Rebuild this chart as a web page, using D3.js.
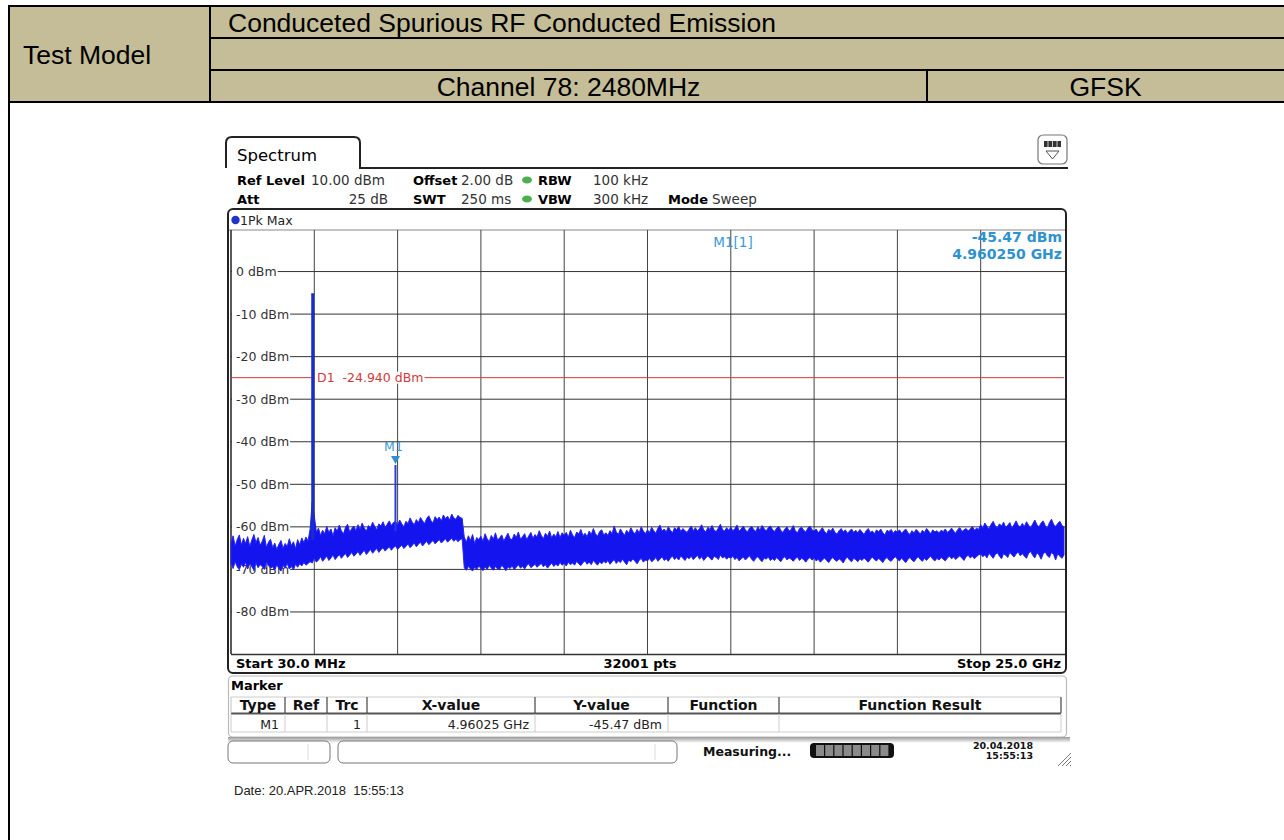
<!DOCTYPE html>
<html><head><meta charset="utf-8">
<script src="https://cdn.jsdelivr.net/npm/d3@7"></script>
<style>body{margin:0;background:#fff}svg{display:block}text{white-space:pre}</style>
</head><body><svg id="c" width="1284" height="840"></svg>
<script>
// ---------- data ----------
const headerLeft = "Test Model";
const headerRows = ["Conduceted Spurious RF Conducted Emission", "", "Channel 78: 2480MHz"];
const headerMode = "GFSK";
const yTickValues = [0, -10, -20, -30, -40, -50, -60, -70, -80];
const yDomain = [-90, 10];
const sweepStartGHz = 0.03;
const sweepStopGHz = 25.0;
const xDivisions = 10;
const displayLineDbm = -24.94;
const displayLineLabel = "D1  -24.940 dBm";
const markerName = "M1";
const markerFreqGHz = 4.96025;
const markerLevelDbm = -45.47;
const spikeFreqGHz = [2.48, 4.96025];
const spikePeakDbm = [-5.1, -45.47];
const spikeBaseDbm = [-63.0, -61.0];
// trace envelope (max / min of the dense 32001-pt sweep), 401 samples across the span
const traceMaxDbm = [
 -63.8,-62.1,-64.5,-63.0,-61.9,-64.2,-62.7,-63.9,-62.3,-64.6,-63.1,-61.8,-63.7,-62.5,-64.3,-63.4,-62.0,-64.8,-63.6,-62.9,
 -64.9,-63.8,-65.3,-64.1,-63.2,-65.0,-63.9,-64.6,-62.8,-64.4,-63.5,-65.1,-63.0,-64.2,-62.6,-63.7,-62.4,-63.3,-60.5,-54.2,
 -57.5,-61.2,-60.3,-62.0,-60.8,-61.6,-59.9,-61.3,-60.5,-62.1,-60.2,-61.0,-59.6,-60.9,-61.7,-60.1,-59.4,-61.2,-60.4,-59.8,
 -60.9,-59.5,-60.6,-59.1,-60.3,-61.0,-59.7,-60.2,-58.9,-59.9,-60.7,-59.3,-59.8,-58.8,-60.1,-59.4,-58.6,-59.7,-59.0,-58.7,
 -59.6,-58.4,-59.3,-60.0,-58.7,-59.2,-57.9,-58.9,-59.5,-58.3,-59.0,-57.8,-58.6,-59.2,-58.0,-57.4,-58.5,-59.1,-57.6,-58.3,
 -57.7,-58.6,-57.2,-58.1,-57.5,-58.4,-57.0,-57.9,-58.2,-57.3,-57.8,-58.0,-62.4,-63.6,-62.1,-63.2,-61.8,-63.9,-62.5,-63.0,
 -62.2,-63.4,-61.6,-62.8,-63.5,-62.0,-62.9,-61.4,-63.1,-62.6,-61.9,-63.3,-62.4,-61.5,-62.8,-63.0,-61.7,-62.5,-61.2,-62.9,
 -62.3,-61.6,-63.0,-62.1,-61.3,-62.7,-61.8,-62.4,-60.9,-62.0,-62.8,-61.5,-62.2,-61.0,-62.6,-61.7,-62.3,-61.1,-62.5,-61.4,
 -62.0,-61.3,-62.4,-60.8,-61.9,-62.5,-61.2,-61.7,-60.6,-62.1,-61.5,-62.3,-61.0,-61.8,-60.4,-61.6,-62.2,-61.1,-60.7,-61.9,
 -61.4,-62.0,-60.9,-61.6,-59.8,-61.2,-61.8,-60.5,-61.3,-62.0,-60.8,-61.5,-60.2,-61.1,-61.7,-60.6,-61.4,-60.0,-61.0,-61.6,
 -60.7,-61.3,-60.1,-60.9,-61.5,-60.3,-59.6,-61.0,-60.5,-61.2,-60.0,-60.8,-61.4,-60.2,-60.7,-59.9,-61.1,-60.4,-60.9,-61.3,
 -60.5,-59.8,-60.9,-60.2,-61.0,-60.4,-59.5,-60.7,-61.2,-60.1,-60.6,-59.7,-60.8,-61.1,-60.3,-59.4,-60.6,-61.0,-60.2,-60.8,
 -60.1,-60.9,-60.4,-59.6,-61.0,-60.5,-59.8,-60.7,-61.2,-60.3,-59.9,-60.6,-61.1,-60.0,-60.8,-59.7,-60.4,-61.0,-60.2,-59.8,
 -60.6,-61.1,-60.3,-59.9,-60.8,-61.3,-60.5,-60.0,-61.0,-60.6,-59.7,-60.9,-61.4,-60.4,-60.1,-60.8,-61.2,-60.3,-59.8,-60.7,
 -61.0,-60.5,-61.4,-60.8,-60.2,-61.1,-61.6,-60.6,-61.0,-60.3,-61.3,-61.7,-60.9,-60.4,-61.2,-60.7,-61.5,-61.0,-60.5,-61.3,
 -60.8,-61.4,-60.6,-61.2,-61.8,-60.9,-60.4,-61.3,-61.0,-61.6,-60.7,-61.2,-60.5,-61.4,-61.9,-60.8,-61.1,-60.6,-61.5,-60.9,
 -61.2,-60.7,-61.5,-61.0,-60.5,-61.3,-61.8,-60.9,-61.4,-60.6,-61.1,-61.7,-60.8,-61.3,-60.4,-61.0,-61.6,-60.7,-61.2,-60.9,
 -61.4,-60.8,-61.1,-60.5,-61.3,-60.9,-60.3,-61.0,-61.5,-60.6,-60.2,-61.1,-60.7,-60.4,-61.0,-60.5,-59.9,-60.8,-60.3,-60.6,
 -59.5,-60.3,-59.1,-59.9,-60.5,-59.4,-58.7,-59.8,-60.2,-59.3,-59.8,-58.9,-60.1,-59.6,-59.0,-60.3,-59.5,-58.6,-59.7,-60.0,
 -59.2,-59.9,-58.8,-59.6,-60.2,-59.3,-58.4,-59.5,-60.0,-59.1,-58.6,-59.7,-60.3,-59.0,-58.2,-59.4,-59.9,-59.2,-58.7,-59.6,
 -60.1
];
const traceMinDbm = [
 -68.6,-69.8,-68.2,-69.4,-70.1,-68.7,-69.5,-68.3,-69.9,-68.8,-69.2,-70.3,-68.5,-69.6,-68.9,-69.3,-70.0,-68.4,-69.1,-69.7,
 -69.4,-70.2,-68.9,-69.8,-70.4,-69.1,-69.7,-68.6,-69.9,-69.3,-70.1,-68.8,-69.5,-68.7,-69.2,-68.4,-69.0,-68.6,-68.2,-68.5,
 -67.4,-68.3,-67.8,-67.0,-68.1,-67.5,-66.9,-67.9,-67.3,-66.6,-67.7,-67.1,-66.5,-67.4,-66.8,-66.3,-67.2,-66.6,-66.0,-66.9,
 -66.4,-65.8,-66.7,-66.1,-65.5,-66.5,-65.9,-65.3,-66.2,-65.6,-65.1,-66.0,-65.4,-64.9,-65.7,-65.2,-64.7,-65.5,-64.9,-64.5,
 -65.3,-64.8,-64.3,-65.1,-64.6,-64.0,-64.9,-64.4,-63.8,-64.7,-64.1,-63.6,-64.5,-63.9,-63.4,-64.2,-63.7,-63.2,-64.0,-63.5,
 -63.0,-63.8,-63.3,-62.8,-63.6,-63.1,-62.7,-63.4,-62.9,-63.5,-63.0,-62.8,-69.6,-70.2,-69.3,-69.9,-70.4,-69.5,-70.0,-69.2,
 -69.8,-70.3,-69.4,-70.0,-69.1,-69.7,-70.2,-69.3,-69.9,-70.1,-69.0,-69.6,-70.3,-69.4,-69.8,-69.2,-70.0,-69.5,-68.9,-69.7,
 -69.3,-69.9,-69.1,-68.7,-69.6,-69.2,-68.8,-69.5,-69.0,-68.6,-69.4,-68.9,-69.7,-69.1,-68.5,-69.3,-68.8,-69.2,-68.4,-69.0,
 -68.6,-69.2,-68.3,-68.9,-68.5,-69.0,-68.1,-68.7,-69.1,-68.4,-68.0,-68.8,-68.3,-68.9,-67.9,-68.5,-69.0,-68.2,-68.7,-68.1,
 -68.5,-67.9,-68.8,-68.2,-67.7,-68.6,-68.0,-68.4,-67.6,-68.3,-68.9,-67.8,-68.2,-67.5,-68.1,-68.7,-67.9,-67.4,-68.3,-67.8,
 -68.0,-67.4,-68.2,-67.8,-67.2,-68.1,-67.6,-67.0,-67.9,-67.5,-68.1,-67.3,-66.9,-67.7,-67.2,-67.8,-66.8,-67.4,-67.9,-67.1,
 -67.5,-66.9,-67.7,-67.2,-66.7,-67.6,-67.0,-67.9,-67.3,-66.8,-67.4,-67.8,-66.9,-67.2,-67.7,-66.6,-67.3,-67.0,-67.6,-67.1,
 -67.4,-66.9,-67.7,-67.2,-68.0,-67.5,-67.1,-67.8,-67.3,-66.8,-67.6,-68.1,-67.4,-67.0,-67.7,-68.2,-67.3,-67.6,-67.1,-67.9,
 -67.5,-67.9,-67.2,-67.7,-68.2,-67.4,-67.0,-67.8,-67.3,-67.6,-68.1,-67.5,-67.1,-67.9,-67.4,-67.7,-68.3,-67.6,-67.2,-67.8,
 -67.4,-68.0,-67.6,-68.3,-67.8,-67.3,-67.9,-68.4,-67.7,-67.2,-67.8,-68.1,-67.5,-67.9,-68.5,-67.6,-67.1,-67.8,-68.2,-67.4,
 -67.7,-68.2,-67.5,-67.9,-67.3,-67.8,-68.3,-67.6,-67.1,-67.7,-68.0,-67.4,-67.9,-68.4,-67.6,-67.2,-67.8,-68.1,-67.5,-67.0,
 -67.6,-68.0,-67.3,-67.9,-68.4,-67.7,-67.2,-67.8,-68.2,-67.5,-67.0,-67.7,-68.1,-67.4,-67.9,-67.3,-66.9,-67.6,-68.0,-67.4,
 -67.8,-67.2,-67.6,-68.0,-67.3,-66.9,-67.5,-67.1,-67.7,-67.2,-66.8,-67.4,-67.9,-67.0,-66.7,-67.3,-66.9,-67.5,-67.0,-66.6,
 -66.4,-67.0,-66.6,-67.3,-66.2,-66.8,-67.4,-66.5,-66.1,-66.9,-67.5,-66.3,-66.7,-67.2,-66.0,-66.6,-67.1,-66.4,-65.9,-66.8,
 -66.3,-66.9,-67.4,-66.2,-65.8,-66.7,-67.3,-66.1,-66.6,-67.6,-66.4,-65.9,-66.8,-67.2,-66.0,-66.5,-67.8,-66.3,-66.9,-67.4,
 -66.6
];
const settingsRow1 = [["Ref Level","10.00 dBm"],["Offset","2.00 dB"],["RBW","100 kHz"]];
const settingsRow2 = [["Att","25 dB"],["SWT","250 ms"],["VBW","300 kHz"],["Mode","Sweep"]];
const traceLabel = "1Pk Max";
const startLabel = "Start 30.0 MHz", ptsLabel = "32001 pts", stopLabel = "Stop 25.0 GHz";
const markerTableHeaders = ["Type","Ref","Trc","X-value","Y-value","Function","Function Result"];
const markerTableRow = ["M1","","1","4.96025 GHz","-45.47 dBm","",""];
const statusText = "Measuring...";
const statusDate = ["20.04.2018","15:55:13"];
const dateLine = "Date: 20.APR.2018  15:55:13";

// ---------- drawing ----------
const svg = d3.select("#c");
const SANS = "'Liberation Sans', Arial, sans-serif";
const DV = "'DejaVu Sans', Verdana, sans-serif";

// header table
const hdr = svg.append("g");
const hTop = 6, hBot = 102, hL = 9, colX = 210, divX = 927, rowY = [6, 38, 70, 102];
hdr.append("rect").attr("x", hL).attr("y", hTop).attr("width", 1284 - hL + 5).attr("height", hBot - hTop)
  .attr("fill", "#c4bd98");
const hl = (x1,y1,x2,y2,w=2,c="#000") => hdr.append("line").attr("x1",x1).attr("y1",y1).attr("x2",x2).attr("y2",y2)
  .attr("stroke",c).attr("stroke-width",w);
hl(hL-1, hTop, 1284, hTop);
hl(hL, hTop, hL, 840);
hl(colX, hTop, colX, hBot);
hl(colX, rowY[1], 1284, rowY[1]);
hl(colX, rowY[2], 1284, rowY[2]);
hl(hL-1, hBot, 1284, hBot);
hl(divX, rowY[2], divX, hBot);
const ht = (x,y,t,anchor="start") => hdr.append("text").attr("x",x).attr("y",y).attr("text-anchor",anchor)
  .attr("font-family",SANS).attr("font-size",26.5).attr("fill","#000").attr("dominant-baseline","central").text(t);
ht(23, 55, headerLeft);
ht(228, 23, headerRows[0]);
ht((colX+divX)/2, 87, headerRows[2], "middle");
ht((divX+1284)/2, 87, headerMode, "middle");

// analyzer screen
const g = svg.append("g");
const xS = d3.scaleLinear().domain([sweepStartGHz, sweepStopGHz]).range([231, 1064]);
const yS = d3.scaleLinear().domain(yDomain).range([654.5, 229]);
const txt = (x,y,t,o={}) => g.append("text").attr("x",x).attr("y",y).attr("font-family",o.f||DV)
  .attr("font-size",o.s||13).attr("font-weight",o.w||"normal").attr("fill",o.c||"#111")
  .attr("text-anchor",o.a||"start").text(t);

// tab
g.append("path").attr("d","M226,168 L226,143 Q226,137 232,137 L354,137 Q360,137 360,143 L360,168 L1068,168")
  .attr("fill","none").attr("stroke","#222").attr("stroke-width",2);
txt(237, 161, "Spectrum", {s:16.5, c:"#000"});
// icon
g.append("rect").attr("x",1038).attr("y",135).attr("width",29).attr("height",29).attr("rx",5)
  .attr("fill","#fff").attr("stroke","#777").attr("stroke-width",1.2);
g.append("rect").attr("x",1044).attr("y",141).attr("width",17).attr("height",6).attr("fill","#333");
[1048,1052.5,1057].forEach(x=>g.append("line").attr("x1",x).attr("y1",141).attr("x2",x).attr("y2",147).attr("stroke","#ccc").attr("stroke-width",1));
g.append("path").attr("d","M1046,151 L1059,151 L1052.5,159 Z").attr("fill","none").attr("stroke","#555").attr("stroke-width",1);

// settings rows
const LB = {w:"bold", c:"#000", s:13}, VL = {c:"#333", s:13.5};
txt(237,185,settingsRow1[0][0],LB); txt(311,185,settingsRow1[0][1],VL);
txt(413,185,settingsRow1[1][0],LB); txt(461,185,settingsRow1[1][1],VL);
txt(538,185,settingsRow1[2][0],LB); txt(593,185,settingsRow1[2][1],VL);
txt(237,204,settingsRow2[0][0],LB); txt(388,204,settingsRow2[0][1],{...VL,a:"end"});
txt(413,204,settingsRow2[1][0],LB); txt(461,204,settingsRow2[1][1],VL);
txt(538,204,settingsRow2[2][0],LB); txt(593,204,settingsRow2[2][1],VL);
txt(668,204,settingsRow2[3][0],LB); txt(712,204,settingsRow2[3][1],VL);
[[527,180],[527,199]].forEach(([cx,cy])=>g.append("ellipse").attr("cx",cx).attr("cy",cy).attr("rx",5).attr("ry",3.5).attr("fill","#4caf50"));

// plot box
g.append("rect").attr("x",228).attr("y",209).attr("width",838).attr("height",464).attr("rx",5)
  .attr("fill","#fff").attr("stroke","#222").attr("stroke-width",2);
g.append("line").attr("x1",229).attr("x2",1065).attr("y1",230).attr("y2",230).attr("stroke","#888");
g.append("circle").attr("cx",235.5).attr("cy",220).attr("r",4.2).attr("fill","#2233cc");
txt(240,224.5,traceLabel,{s:12.5,c:"#222"});
g.append("line").attr("x1",231).attr("x2",231).attr("y1",230).attr("y2",654).attr("stroke","#222").attr("stroke-width",1.5);

// grid
const xTicks = d3.range(xDivisions+1).map(k => sweepStartGHz + k*(sweepStopGHz-sweepStartGHz)/xDivisions);
const grid = g.append("g");
xTicks.slice(1,-1).forEach(f => grid.append("line").attr("x1",xS(f)).attr("x2",xS(f)).attr("y1",230).attr("y2",654)
  .attr("stroke","#444").attr("stroke-width",1));
[...yTickValues, -90].forEach(v => grid.append("line").attr("x1",231).attr("x2",1065).attr("y1",yS(v)).attr("y2",yS(v))
  .attr("stroke","#333").attr("stroke-width",v===-90?1.5:1));

// y labels with white background
yTickValues.forEach(v => {
  const t = txt(236, yS(v)+4.5, `${v} dBm`, {s:12.5, c:"#333"});
  const w = t.node().getComputedTextLength();
  g.insert("rect", () => t.node()).attr("x",232).attr("y",yS(v)-7).attr("width",w+5).attr("height",14).attr("fill","#fff");
});

// display line D1
g.append("line").attr("x1",231).attr("x2",1064).attr("y1",yS(displayLineDbm)).attr("y2",yS(displayLineDbm))
  .attr("stroke","#cc3b3b").attr("stroke-width",1);

// trace
const plot = g.append("g");
const freqOf = i => sweepStartGHz + i*(sweepStopGHz-sweepStartGHz)/(traceMaxDbm.length-1);
const pts = traceMaxDbm.map((v,i)=>({f:freqOf(i), hi:v, lo:traceMinDbm[i]}));
plot.append("path").datum(pts)
  .attr("d", d3.area().x(d=>xS(d.f)).y0(d=>yS(d.lo)).y1(d=>yS(d.hi)))
  .attr("fill","#1414ee").attr("stroke","#2424f2").attr("stroke-width",1);
spikeFreqGHz.forEach((f,i)=>{
  plot.append("line").attr("x1",xS(f)).attr("x2",xS(f)).attr("y1",yS(spikeBaseDbm[i])).attr("y2",yS(spikePeakDbm[i]))
    .attr("stroke", i===0 ? "#1a2ccc" : "#2a3ae0").attr("stroke-width", i===0 ? 3 : 2);
});

// D1 label
{
  const t = txt(317, yS(displayLineDbm)+4.5, displayLineLabel, {s:12.5, c:"#d03a3a"});
  const w = t.node().getComputedTextLength();
  g.insert("rect", () => t.node()).attr("x",315).attr("y",yS(displayLineDbm)-6).attr("width",w+3).attr("height",12).attr("fill","#fff");
}

// marker M1
const mx = xS(markerFreqGHz), my = yS(markerLevelDbm);
g.append("path").attr("d",`M${mx-4.5},${my-9} L${mx+4.5},${my-9} L${mx},${my-1} Z`).attr("fill","#2f8fd0");
txt(mx-2, my-14, markerName, {s:12.5, c:"#3a9ad9", a:"middle"});
txt(733, 247, `${markerName}[1]`, {s:13.5, c:"#3a9ad9", a:"middle"});
txt(1062, 242, `${markerLevelDbm.toFixed(2)} dBm`, {s:14, c:"#2e92cf", a:"end", w:"bold"});
txt(1062, 259, `${markerFreqGHz.toFixed(6)} GHz`, {s:14, c:"#2e92cf", a:"end", w:"bold"});

// start/stop row
txt(236, 668, startLabel, {w:"bold", c:"#000"});
txt(640, 668, ptsLabel, {w:"bold", c:"#000", a:"middle"});
txt(1061, 668, stopLabel, {w:"bold", c:"#000", a:"end"});

// marker panel
g.append("rect").attr("x",228.5).attr("y",676).attr("width",838).attr("height",61).attr("rx",4)
  .attr("fill","#fff").attr("stroke","#bbb").attr("stroke-width",1.2);
txt(231, 690, "Marker", {w:"bold", c:"#000"});
const colEdges = [231, 285, 327, 367, 535, 668, 779, 1061];
g.append("line").attr("x1",231).attr("x2",1061).attr("y1",697).attr("y2",697).attr("stroke","#ccc");
g.append("line").attr("x1",231).attr("x2",1061).attr("y1",713.5).attr("y2",713.5).attr("stroke","#555").attr("stroke-width",2);
g.append("line").attr("x1",231).attr("x2",1061).attr("y1",732).attr("y2",732).attr("stroke","#ccc");
colEdges.forEach((x,i)=>{
  g.append("line").attr("x1",x).attr("x2",x).attr("y1",697).attr("y2",713).attr("stroke",(i===0)?"#ccc":"#444").attr("stroke-width",1.2);
  g.append("line").attr("x1",x).attr("x2",x).attr("y1",714).attr("y2",732).attr("stroke","#ccc");
});
markerTableHeaders.forEach((h,i)=>txt((colEdges[i]+colEdges[i+1])/2, 710, h, {s:14, w:"bold", c:"#111", a:"middle"}));
markerTableRow.forEach((v,i)=>{ if(v) txt(colEdges[i+1]-6, 729, v, {s:12.5, c:"#222", a:"end"}); });

// status bar
const defs = svg.append("defs");
const lg = defs.append("linearGradient").attr("id","sb").attr("x1",0).attr("x2",0).attr("y1",0).attr("y2",1);
lg.append("stop").attr("offset","0").attr("stop-color","#9a9a9a");
lg.append("stop").attr("offset","1").attr("stop-color","#ffffff");
g.append("rect").attr("x",228).attr("y",737).attr("width",842).attr("height",6).attr("fill","url(#sb)");
[[228,330,308],[338,677,655]].forEach(([a,b,l])=>{
  g.append("rect").attr("x",a).attr("y",741).attr("width",b-a).attr("height",22).attr("rx",5)
    .attr("fill","#fff").attr("stroke","#777").attr("stroke-width",1);
  g.append("line").attr("x1",l).attr("x2",l).attr("y1",744).attr("y2",760).attr("stroke","#ddd");
});
txt(703, 756, statusText, {w:"bold", s:12.5, c:"#111"});
g.append("rect").attr("x",810).attr("y",743).attr("width",84).attr("height",15).attr("rx",4).attr("fill","#111");
d3.range(8).forEach(k=>g.append("rect").attr("x",816+k*9.2).attr("y",745).attr("width",8).attr("height",11).attr("fill","#8a8a8a"));
txt(1033, 749, statusDate[0], {s:9.5, w:"bold", c:"#111", a:"end"});
txt(1033, 759, statusDate[1], {s:9.5, w:"bold", c:"#111", a:"end"});
[0,4,8,12].forEach(d=>g.append("line").attr("x1",1058+d).attr("y1",766).attr("x2",1071).attr("y2",753+d)
  .attr("stroke","#777").attr("stroke-width",1));

// date line
svg.append("text").attr("x",234).attr("y",795).attr("font-family",SANS).attr("font-size",13).attr("fill","#222").text(dateLine);
</script></body></html>
